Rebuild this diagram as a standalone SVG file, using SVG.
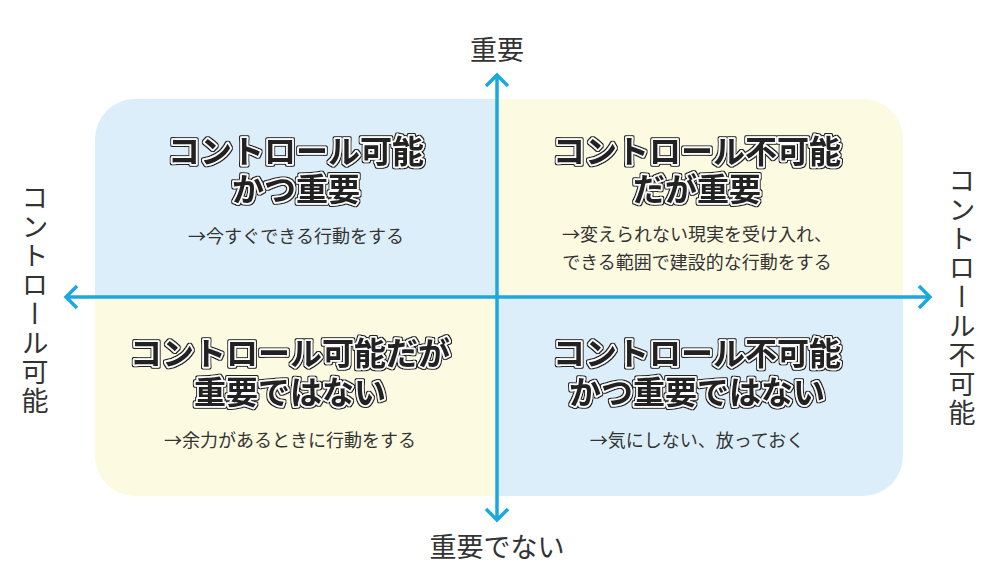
<svg xmlns="http://www.w3.org/2000/svg" width="1000" height="585" viewBox="0 0 1000 585">
<style>
text{font-family:"Noto Sans CJK JP","Noto Sans",sans-serif;fill:#222;text-anchor:middle}
.ax{font-size:27px;fill:#333}
.v{writing-mode:vertical-rl;letter-spacing:2px}
.t{font-size:32px;font-weight:bold;stroke:#fff;stroke-width:3.5;paint-order:stroke;stroke-linejoin:round;filter:url(#ol)}
.s{font-size:18px;fill:#333}
.ar{stroke:#1ba8de;stroke-width:3.5;fill:none}
</style>
<defs>
<clipPath id="c"><rect x="95" y="99" width="808" height="397" rx="40"/></clipPath>
<filter id="ol" x="-10%" y="-30%" width="120%" height="160%">
<feMorphology in="SourceAlpha" operator="dilate" radius="1.3" result="d"/>
<feFlood flood-color="#222"/>
<feComposite in2="d" operator="in" result="e"/>
<feMerge><feMergeNode in="e"/><feMergeNode in="SourceGraphic"/></feMerge>
</filter>
</defs>
<g clip-path="url(#c)">
<rect x="95" y="99" width="402" height="198" fill="#dceef9"/>
<rect x="497" y="99" width="406" height="198" fill="#fcfae0"/>
<rect x="95" y="297" width="402" height="199" fill="#fcfae0"/>
<rect x="497" y="297" width="406" height="199" fill="#dceef9"/>
</g>
<g id="connectors">
<path class="ar" d="M497 75V520M66 297H930M486 86L497 75L508 86M486 509L497 520L508 509M77 286L66 297L77 308M919 286L930 297L919 308"/>
</g>
<g id="axes">
<text class="ax" x="497" y="60">重要</text>
<text class="ax" x="497" y="557">重要でない</text>
<text class="ax v" x="35" y="300">コントロール可能</text>
<text class="ax v" x="962" y="298">コントロール不可能</text>
</g>
<g id="q1">
<text class="t" x="296" y="163">コントロール可能</text>
<text class="t" x="296" y="201">かつ重要</text>
<text class="s" x="296" y="243">→今すぐできる行動をする</text>
</g>
<g id="q2">
<text class="t" x="697" y="163">コントロール不可能</text>
<text class="t" x="697" y="201">だが重要</text>
<text class="s" x="697" y="241">→変えられない現実を受け入れ、</text>
<text class="s" x="697" y="269">できる範囲で建設的な行動をする</text>
</g>
<g id="q3">
<text class="t" x="290" y="365">コントロール可能だが</text>
<text class="t" x="290" y="404">重要ではない</text>
<text class="s" x="290" y="447">→余力があるときに行動をする</text>
</g>
<g id="q4">
<text class="t" x="697" y="365">コントロール不可能</text>
<text class="t" x="697" y="404">かつ重要ではない</text>
<text class="s" x="697" y="447">→気にしない、放っておく</text>
</g>
</svg>
